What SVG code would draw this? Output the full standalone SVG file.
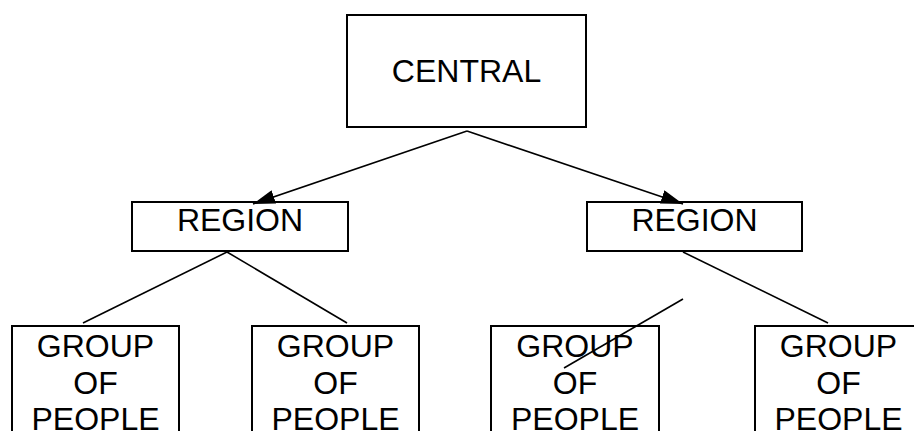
<svg xmlns="http://www.w3.org/2000/svg" width="914" height="431" viewBox="0 0 914 431">
<style>
.box{fill:#fff;stroke:#000;stroke-width:2}
.lbl{font-family:"Liberation Sans",Arial,sans-serif;font-size:32px;fill:#000;text-anchor:middle}
.ln{stroke:#000;stroke-width:1.6;fill:none}
</style>
<defs>
<marker id="ah" viewBox="0 0 22 14" refX="22" refY="7" markerWidth="22" markerHeight="14" markerUnits="userSpaceOnUse" orient="auto">
<path d="M0,0 L22,7 L0,14 Z" fill="#000"/>
</marker>
</defs>
<rect width="914" height="431" fill="#fff"/>
<g id="central">
<rect class="box" x="347" y="15" width="239" height="112"/>
<text class="lbl" x="466.5" y="82">CENTRAL</text>
</g>
<g id="region-left">
<rect class="box" x="132" y="202" width="216" height="49"/>
<text class="lbl" x="240" y="231">REGION</text>
</g>
<g id="region-right">
<rect class="box" x="587" y="202" width="215" height="49"/>
<text class="lbl" x="694.5" y="231">REGION</text>
</g>
<g id="group-1">
<rect class="box" x="12" y="326" width="167" height="120"/>
<text class="lbl" x="95.5" y="357">GROUP</text>
<text class="lbl" x="95.5" y="393.5">OF</text>
<text class="lbl" x="95.5" y="430">PEOPLE</text>
</g>
<g id="group-2">
<rect class="box" x="252" y="326" width="167" height="120"/>
<text class="lbl" x="335.5" y="357">GROUP</text>
<text class="lbl" x="335.5" y="393.5">OF</text>
<text class="lbl" x="335.5" y="430">PEOPLE</text>
</g>
<g id="group-3">
<rect class="box" x="491" y="326" width="168" height="120"/>
<text class="lbl" x="575" y="357">GROUP</text>
<text class="lbl" x="575" y="393.5">OF</text>
<text class="lbl" x="575" y="430">PEOPLE</text>
</g>
<g id="group-4">
<rect class="box" x="755" y="326" width="167" height="120"/>
<text class="lbl" x="838.5" y="357">GROUP</text>
<text class="lbl" x="838.5" y="393.5">OF</text>
<text class="lbl" x="838.5" y="430">PEOPLE</text>
</g>
<g id="connectors">
<line class="ln" x1="467" y1="131" x2="253" y2="204" marker-end="url(#ah)"/>
<line class="ln" x1="467" y1="131" x2="683" y2="204" marker-end="url(#ah)"/>
<line class="ln" x1="227" y1="252" x2="83" y2="323"/>
<line class="ln" x1="227" y1="252" x2="347" y2="323"/>
<line class="ln" x1="683" y1="252" x2="828" y2="323"/>
<line class="ln" x1="683" y1="299" x2="564" y2="368"/>
</g>
</svg>
